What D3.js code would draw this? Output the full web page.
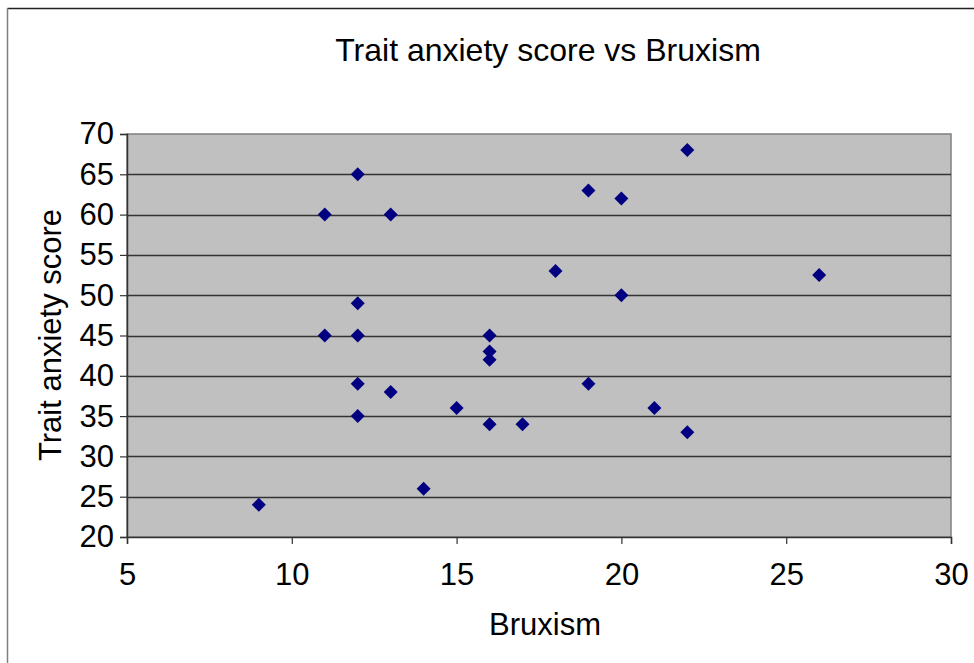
<!DOCTYPE html>
<html>
<head>
<meta charset="utf-8">
<script src="https://cdn.jsdelivr.net/npm/d3@7"></script>
<style>
  html, body { margin: 0; padding: 0; background: #fff; }
  svg { display: block; font-family: "Liberation Sans", Arial, sans-serif; }
</style>
</head>
<body>
<div id="chart"></div>
<script>
// Bruxism (x) vs trait anxiety score (y)
const bruxism = [9, 11, 11, 12, 12, 12, 12, 12, 13, 13, 14, 15, 16, 16, 16, 16, 17, 18, 19, 19, 20, 20, 21, 22, 22, 26];
const anxiety = [24, 60, 45, 65, 49, 45, 39, 35, 60, 38, 26, 36, 45, 43, 42, 34, 34, 53, 63, 39, 62, 50, 36, 68, 33, 52.5];
const xTicks = [5, 10, 15, 20, 25, 30];
const yTicks = [20, 25, 30, 35, 40, 45, 50, 55, 60, 65, 70];

const width = 974, height = 663;
const plot = { left: 127, top: 134, right: 951, bottom: 537 };

const svg = d3.select('#chart').append('svg')
    .attr('width', width)
    .attr('height', height);

// outer chart frame
svg.append('line')
    .attr('x1', 7.5).attr('x2', width).attr('y1', 8.5).attr('y2', 8.5)
    .attr('stroke', '#222').attr('stroke-width', 1.5);
svg.append('line')
    .attr('x1', 7.5).attr('x2', 7.5).attr('y1', 8).attr('y2', height)
    .attr('stroke', '#808080').attr('stroke-width', 1.5);

const x = d3.scaleLinear().domain([5, 30]).range([plot.left, plot.right]);
const y = d3.scaleLinear().domain([20, 70]).range([plot.bottom, plot.top]);

// plot area
svg.append('rect')
    .attr('x', plot.left).attr('y', plot.top)
    .attr('width', plot.right - plot.left).attr('height', plot.bottom - plot.top)
    .attr('fill', '#c0c0c0')
    .attr('stroke', '#808080').attr('stroke-width', 1.5);

// gridlines
svg.append('g').selectAll('line')
    .data(yTicks.filter(d => d > 20 && d < 70))
    .join('line')
    .attr('x1', plot.left).attr('x2', plot.right)
    .attr('y1', d => Math.round(y(d)) + 0.5).attr('y2', d => Math.round(y(d)) + 0.5)
    .attr('stroke', '#333').attr('stroke-width', 1.5);

// axes
const yAxis = svg.append('g')
    .attr('transform', `translate(${plot.left},0)`)
    .call(d3.axisLeft(y).tickValues(yTicks).tickSize(7).tickPadding(6).tickFormat(d3.format('d')));
const xAxis = svg.append('g')
    .attr('transform', `translate(0,${plot.bottom})`)
    .call(d3.axisBottom(x).tickValues(xTicks).tickSize(7).tickPadding(19).tickFormat(d3.format('d')));

[xAxis, yAxis].forEach(a => {
    a.select('.domain').attr('stroke', '#333').attr('stroke-width', 1.5);
    a.selectAll('.tick line').attr('stroke', '#333').attr('stroke-width', 1.2);
    a.selectAll('.tick text').attr('fill', '#000').attr('font-size', 31)
        .attr('font-family', '"Liberation Sans", Arial, sans-serif');
});

// points
const pts = bruxism.map((b, i) => ({ b, a: anxiety[i] }));
svg.append('g').selectAll('path')
    .data(pts)
    .join('path')
    .attr('transform', d => `translate(${x(d.b)},${y(d.a)})`)
    .attr('d', 'M0,-7L7,0L0,7L-7,0Z')
    .attr('fill', '#000080');

// titles
svg.append('text')
    .attr('x', 548).attr('y', 61)
    .attr('text-anchor', 'middle')
    .attr('font-size', 32)
    .text('Trait anxiety score vs Bruxism');

svg.append('text')
    .attr('x', 545).attr('y', 635)
    .attr('text-anchor', 'middle')
    .attr('font-size', 31)
    .text('Bruxism');

svg.append('text')
    .attr('transform', 'translate(61,335) rotate(-90)')
    .attr('text-anchor', 'middle')
    .attr('font-size', 31)
    .text('Trait anxiety score');
</script>
</body>
</html>
